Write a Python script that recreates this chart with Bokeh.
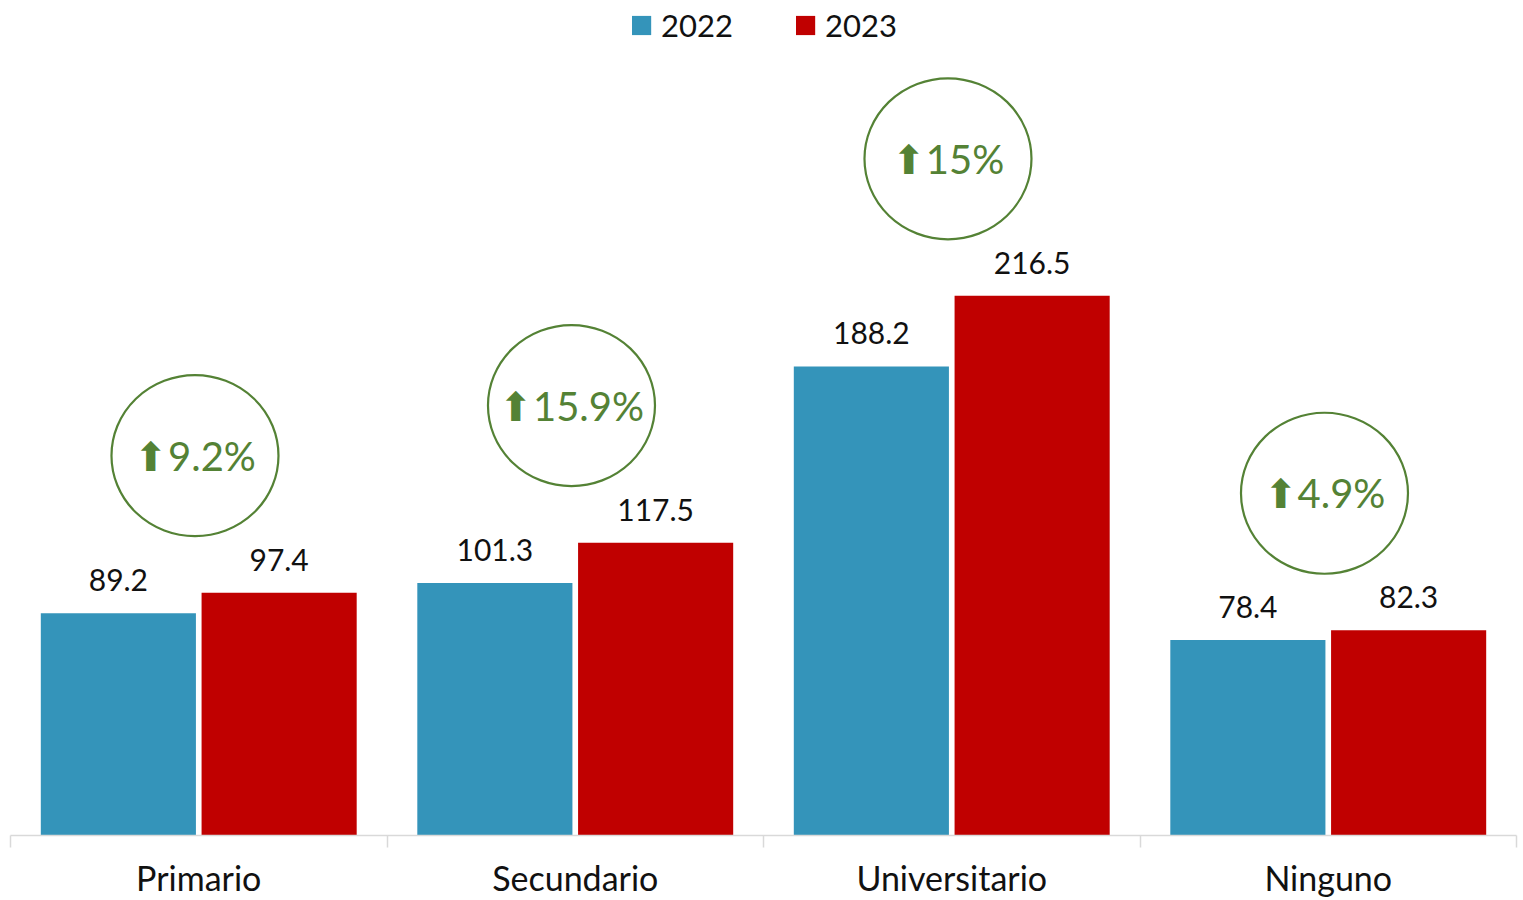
from bokeh.plotting import figure
from bokeh.models import Range1d, FixedTicker, Legend, LegendItem, ColumnDataSource
from bokeh.core.properties import value
from bokeh.embed import file_html
from bokeh.resources import INLINE

categories = ["Primario", "Secundario", "Universitario", "Ninguno"]
v2022 = [89.2, 101.3, 188.2, 78.4]
v2023 = [97.4, 117.5, 216.5, 82.3]
growth_labels = ["9.2%", "15.9%", "15%", "4.9%"]
series_names = ["2022", "2023"]

BLUE = "#3494BA"
RED = "#C00000"
GREEN = "#548235"
FONT = "Lato"

p = figure(width=1523, height=900, output_backend="svg", toolbar_location=None,
           x_range=Range1d(0, 4), y_range=Range1d(0, 335),
           min_border_left=10, min_border_right=7, min_border_top=0, min_border_bottom=65,
           y_axis_location=None)
p.outline_line_color = None
p.xgrid.visible = False
p.ygrid.visible = False
p.background_fill_color = "white"
p.border_fill_color = "white"

n = len(categories)
centers = [i + 0.5 for i in range(n)]
bw = 0.412
off = 0.2135

src22 = ColumnDataSource(dict(x=[c - off for c in centers], top=v2022,
                              lab=[f"{v:.1f}" for v in v2022]))
src23 = ColumnDataSource(dict(x=[c + off for c in centers], top=v2023,
                              lab=[f"{v:.1f}" for v in v2023]))

r22 = p.vbar(x="x", top="top", width=bw, bottom=0, source=src22, fill_color=BLUE, line_color=None)
r23 = p.vbar(x="x", top="top", width=bw, bottom=0, source=src23, fill_color=RED, line_color=None)

for s in (src22, src23):
    p.text(x="x", y="top", text="lab", source=s, text_align="center", text_baseline="alphabetic",
           y_offset=-33, text_font=value(FONT), text_font_size="30px", text_color="#111111")

# growth circles
circ_y = [max(a, b) + 55 for a, b in zip(v2022, v2023)]
circ_x = [c - 0.01 for c in centers]
csrc = ColumnDataSource(dict(x=circ_x, y=circ_y, t=["\u2b06" + g for g in growth_labels]))
p.ellipse(x="x", y="y", width=167, height=161, width_units="screen", height_units="screen",
          source=csrc, fill_color=None, line_color=GREEN, line_width=2.2)
p.text(x="x", y="y", text="t", source=csrc, text_align="center", text_baseline="middle",
       text_font=value(FONT), text_font_size="40px", text_color=GREEN)

# axis
ax = p.xaxis[0]
ax.ticker = FixedTicker(ticks=centers, minor_ticks=list(range(n + 1)))
ax.major_label_overrides = {c: cat for c, cat in zip(centers, categories)}
ax.major_tick_out = 0
ax.major_tick_in = 0
ax.minor_tick_out = 12
ax.minor_tick_in = 0
ax.minor_tick_line_color = "#D9D9D9"
ax.minor_tick_line_width = 1.5
ax.axis_line_color = "#D9D9D9"
ax.axis_line_width = 1.5
ax.major_label_standoff = 9
ax.major_label_text_font = FONT
ax.major_label_text_font_size = "34px"
ax.major_label_text_color = "#111111"

legend = Legend(items=[LegendItem(label=series_names[0], renderers=[r22]),
                       LegendItem(label=series_names[1], renderers=[r23])],
                location="top_center", orientation="horizontal",
                glyph_width=24, glyph_height=24, label_standoff=8, spacing=60,
                label_text_font=FONT, label_text_font_size="31px", label_text_color="#111111",
                border_line_color=None, background_fill_alpha=0, padding=0, margin=6)
p.add_layout(legend)

open("out.html", "w").write(file_html(p, INLINE))
